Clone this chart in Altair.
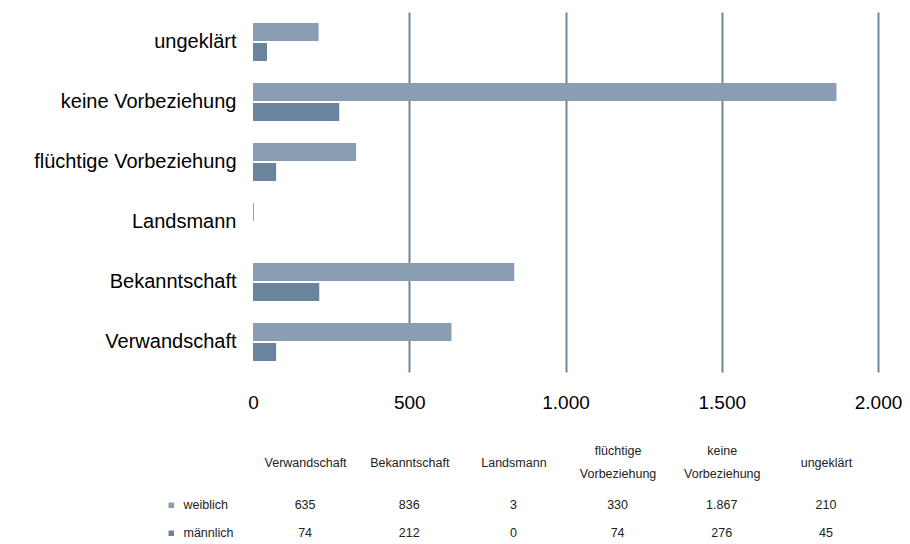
import altair as alt
import pandas as pd

categories = ["Verwandschaft", "Bekanntschaft", "Landsmann",
              "flüchtige Vorbeziehung", "keine Vorbeziehung", "ungeklärt"]
series = ["weiblich", "männlich"]
weiblich = [635, 836, 3, 330, 1867, 210]
maennlich = [74, 212, 0, 74, 276, 45]
x_ticks = [0, 500, 1000, 1500, 2000]
colors = ["#8a9eb3", "#6b849d"]

rows = []
for i, c in enumerate(categories):
    rows.append({"Kategorie": c, "Geschlecht": "weiblich", "Wert": weiblich[i]})
    rows.append({"Kategorie": c, "Geschlecht": "männlich", "Wert": maennlich[i]})
df = pd.DataFrame(rows)

color = alt.Color(
    "Geschlecht:N",
    scale=alt.Scale(domain=series, range=colors),
    legend=alt.Legend(
        title=None, orient="none", legendX=-88, legendY=487,
        symbolType="square", symbolSize=30, symbolStrokeWidth=0,
        labelFontSize=12.5, labelColor="#222222", labelOffset=6,
        rowPadding=15, direction="vertical",
    ),
)

bars = alt.Chart(df).mark_bar().encode(
    x=alt.X(
        "Wert:Q",
        scale=alt.Scale(domain=[0, 2000], nice=False),
        axis=alt.Axis(
            values=x_ticks, format=",d", title=None, domain=False, ticks=False,
            labelFontSize=19, labelPadding=30, labelBaseline="middle", labelFlush=False,
            labelColor="#000000", grid=True, gridColor="#6e87a0", gridWidth=2,
            gridOpacity={"condition": {"test": "datum.value === 0", "value": 0}, "value": 1},
        ),
    ),
    y=alt.Y(
        "Kategorie:N",
        sort=categories[::-1],
        scale=alt.Scale(paddingInner=0.367, paddingOuter=0.183),
        axis=alt.Axis(
            title=None, domain=False, ticks=False, labelFontSize=20,
            labelPadding=17, labelColor="#000000", minExtent=245, labelLimit=300,
        ),
    ),
    yOffset=alt.YOffset("Geschlecht:N", sort=series, scale=alt.Scale(paddingInner=0.1)),
    color=color,
).properties(width=625, height=360)

table = alt.Chart(df).mark_text(fontSize=12.5, color="#222222").encode(
    x=alt.X(
        "Kategorie:N",
        sort=categories,
        scale=alt.Scale(paddingInner=0, paddingOuter=0),
        axis=alt.Axis(
            orient="top", title=None, domain=False, ticks=False, labelAngle=0,
            labelFontSize=12.5, labelColor="#222222",
            labelPadding={"condition": {"test": "indexof(datum.label, ' ') >= 0", "value": 41}, "value": 29},
            labelBaseline="middle", labelLineHeight=23,
            labelExpr="split(datum.label, ' ')",
        ),
    ),
    y=alt.Y("Geschlecht:N", sort=series,
            scale=alt.Scale(paddingInner=0, paddingOuter=0), axis=None),
    text=alt.Text("Wert:Q", format=",d"),
).properties(width=625, height=56)

chart = alt.vconcat(bars, table, spacing=32).properties(
    padding={"left": 0, "top": 4, "right": 0, "bottom": 0}
).configure(
    font="Liberation Sans",
    locale=alt.Locale(number=alt.NumberLocale(decimal=",", thousands=".", grouping=[3], currency=["", " €"])),
).configure_view(strokeWidth=0)

chart.save("out.html", embed_options={"renderer": "svg", "actions": False})
